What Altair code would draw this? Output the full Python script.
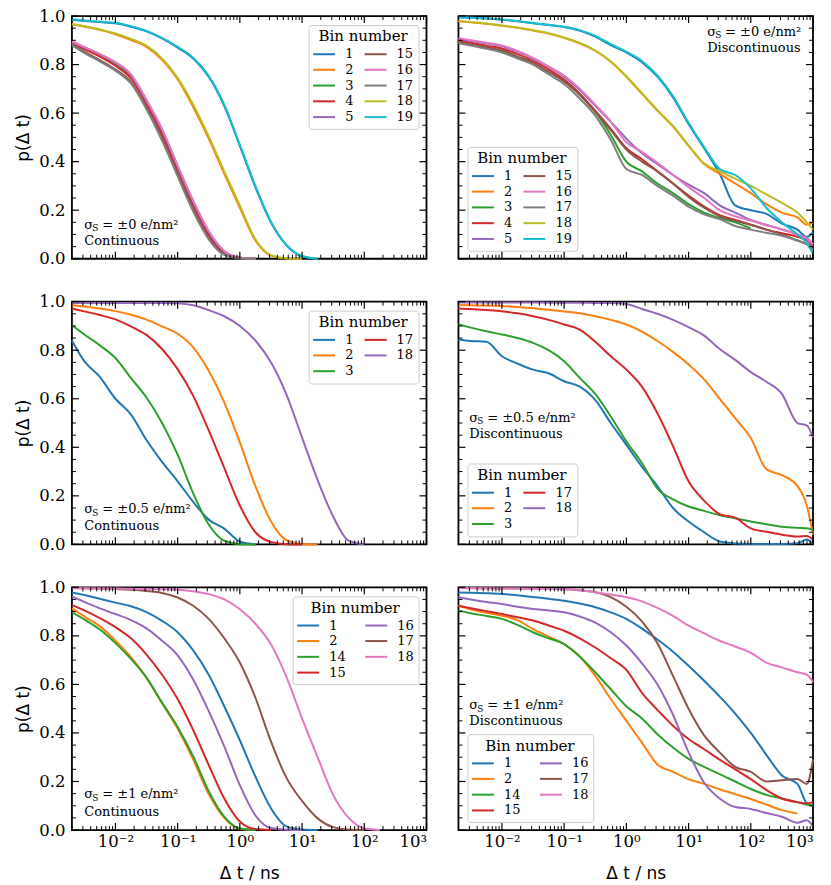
import altair as alt
import pandas as pd

# ---------------- time grids (ns) ----------------
T_CONT = [0.002, 0.00316, 0.00562, 0.01, 0.0178, 0.0316, 0.0562, 0.1, 0.178, 0.316,
          0.562, 1.0, 1.78, 3.16, 5.62, 10.0, 17.8, 31.6, 56.2, 100.0, 178.0]
T_DISC = T_CONT + [316.0, 562.0, 794.0, 1000.0]

# ---------------- sigma = 0, continuous ----------------
A_1 = [0.985, 0.98, 0.975, 0.97, 0.956, 0.937, 0.908, 0.87, 0.825, 0.75, 0.63, 0.465, 0.295, 0.15, 0.055, 0.01, 0.0]
A_2 = [0.965, 0.957, 0.943, 0.925, 0.901, 0.873, 0.82, 0.74, 0.625, 0.495, 0.35, 0.21, 0.075, 0.013, 0.002, 0.0]
A_3 = [0.89, 0.867, 0.838, 0.801, 0.751, 0.644, 0.522, 0.373, 0.228, 0.103, 0.027, 0.004, 0.0]
A_4 = [0.89, 0.864, 0.833, 0.795, 0.743, 0.637, 0.512, 0.365, 0.22, 0.097, 0.024, 0.003, 0.0]
A_5 = [0.895, 0.872, 0.843, 0.807, 0.756, 0.65, 0.53, 0.38, 0.235, 0.11, 0.03, 0.004, 0.0]
A_15 = [0.885, 0.853, 0.818, 0.78, 0.728, 0.622, 0.497, 0.35, 0.205, 0.086, 0.019, 0.003, 0.0]
A_16 = [0.895, 0.872, 0.843, 0.81, 0.76, 0.655, 0.535, 0.385, 0.24, 0.115, 0.032, 0.005, 0.0]
A_17 = [0.88, 0.848, 0.813, 0.775, 0.722, 0.616, 0.487, 0.34, 0.195, 0.08, 0.016, 0.002, 0.0]
A_18 = [0.967, 0.958, 0.945, 0.928, 0.906, 0.878, 0.825, 0.745, 0.635, 0.505, 0.36, 0.22, 0.08, 0.015, 0.002, 0.0]
A_19 = [0.987, 0.982, 0.977, 0.972, 0.958, 0.939, 0.91, 0.873, 0.828, 0.754, 0.635, 0.47, 0.3, 0.153, 0.057, 0.011, 0.0]

# ---------------- sigma = 0, discontinuous ----------------
B_1 = [0.995, 0.993, 0.99, 0.985, 0.978, 0.97, 0.963, 0.955, 0.94, 0.915, 0.88, 0.85, 0.81, 0.75, 0.665, 0.555, 0.455, 0.35, 0.22, 0.2, 0.185, 0.145, 0.12, 0.09, 0.11]
B_2 = [0.978, 0.974, 0.968, 0.96, 0.952, 0.94, 0.928, 0.91, 0.888, 0.857, 0.812, 0.75, 0.68, 0.61, 0.545, 0.465, 0.39, 0.35, 0.31, 0.27, 0.225, 0.19, 0.17, 0.14, 0.15]
B_3 = [0.892, 0.882, 0.87, 0.857, 0.833, 0.807, 0.77, 0.732, 0.675, 0.605, 0.51, 0.4, 0.36, 0.31, 0.27, 0.225, 0.19, 0.168, 0.15, 0.125]
B_4 = [0.9, 0.89, 0.878, 0.866, 0.843, 0.815, 0.78, 0.738, 0.68, 0.61, 0.535, 0.455, 0.41, 0.36, 0.31, 0.26, 0.215, 0.18, 0.16, 0.14, 0.12, 0.105, 0.09, 0.075, 0.05]
B_5 = [0.905, 0.897, 0.887, 0.876, 0.852, 0.824, 0.79, 0.75, 0.695, 0.63, 0.565, 0.495, 0.435, 0.39, 0.345, 0.305, 0.27, 0.22, 0.19, 0.16, 0.14, 0.12, 0.1, 0.08, 0.05]
B_15 = [0.893, 0.882, 0.87, 0.858, 0.832, 0.805, 0.77, 0.73, 0.675, 0.605, 0.53, 0.45, 0.4, 0.36, 0.31, 0.255, 0.21, 0.175, 0.156, 0.14, 0.12, 0.1, 0.075, 0.06, 0.05]
B_16 = [0.909, 0.9, 0.89, 0.879, 0.856, 0.828, 0.793, 0.755, 0.7, 0.635, 0.565, 0.48, 0.44, 0.395, 0.345, 0.295, 0.25, 0.2, 0.175, 0.157, 0.138, 0.122, 0.1, 0.085, 0.06]
B_17 = [0.888, 0.878, 0.865, 0.85, 0.825, 0.8, 0.76, 0.72, 0.66, 0.59, 0.49, 0.37, 0.345, 0.3, 0.26, 0.215, 0.183, 0.163, 0.135, 0.12, 0.107, 0.095, 0.075, 0.06, 0.035]
B_18 = [0.979, 0.975, 0.969, 0.961, 0.953, 0.941, 0.929, 0.911, 0.889, 0.858, 0.813, 0.752, 0.682, 0.612, 0.547, 0.467, 0.392, 0.36, 0.33, 0.3, 0.265, 0.23, 0.19, 0.15, 0.12]
B_19 = [0.995, 0.993, 0.99, 0.986, 0.979, 0.971, 0.964, 0.956, 0.942, 0.918, 0.884, 0.853, 0.815, 0.755, 0.67, 0.56, 0.46, 0.37, 0.345, 0.29, 0.21, 0.15, 0.1, 0.065, 0.02]

# ---------------- sigma = 0.5, continuous ----------------
C_1 = [0.84, 0.755, 0.69, 0.6, 0.535, 0.43, 0.34, 0.26, 0.175, 0.102, 0.065, 0.012, 0.0]
C_2 = [0.986, 0.98, 0.972, 0.961, 0.946, 0.926, 0.898, 0.868, 0.812, 0.715, 0.585, 0.42, 0.24, 0.095, 0.017, 0.002, 0.0]
C_3 = [0.903, 0.865, 0.82, 0.768, 0.685, 0.605, 0.5, 0.37, 0.21, 0.082, 0.015, 0.001, 0.0]
C_17 = [0.972, 0.96, 0.945, 0.927, 0.898, 0.863, 0.805, 0.722, 0.612, 0.47, 0.315, 0.16, 0.05, 0.01, 0.001, 0.0]
C_18 = [0.995, 0.995, 0.995, 0.995, 0.995, 0.995, 0.995, 0.993, 0.985, 0.965, 0.94, 0.9, 0.84, 0.75, 0.617, 0.44, 0.265, 0.115, 0.015, 0.0]

# ---------------- sigma = 0.5, discontinuous ----------------
D_1 = [0.844, 0.838, 0.835, 0.775, 0.745, 0.72, 0.705, 0.672, 0.65, 0.595, 0.5, 0.41, 0.32, 0.24, 0.15, 0.094, 0.05, 0.012, 0.004, 0.002, 0.002, 0.002, 0.005, 0.02, 0.0]
D_2 = [0.986, 0.985, 0.984, 0.982, 0.978, 0.973, 0.967, 0.96, 0.952, 0.94, 0.925, 0.906, 0.877, 0.838, 0.793, 0.741, 0.68, 0.6, 0.52, 0.438, 0.31, 0.285, 0.24, 0.16, 0.04]
D_3 = [0.906, 0.893, 0.878, 0.865, 0.85, 0.83, 0.8, 0.755, 0.686, 0.62, 0.527, 0.424, 0.335, 0.23, 0.185, 0.156, 0.138, 0.12, 0.108, 0.094, 0.083, 0.073, 0.068, 0.066, 0.06]
D_17 = [0.972, 0.97, 0.966, 0.961, 0.952, 0.94, 0.925, 0.906, 0.885, 0.835, 0.775, 0.72, 0.65, 0.54, 0.405, 0.26, 0.18, 0.125, 0.11, 0.066, 0.052, 0.04, 0.032, 0.035, 0.02]
D_18 = [0.997, 0.997, 0.997, 0.997, 0.997, 0.997, 0.996, 0.996, 0.996, 0.995, 0.995, 0.99, 0.97, 0.95, 0.925, 0.895, 0.86, 0.805, 0.76, 0.71, 0.67, 0.62, 0.5, 0.49, 0.44]

# ---------------- sigma = 1, continuous ----------------
E_1 = [0.979, 0.968, 0.953, 0.937, 0.922, 0.898, 0.862, 0.815, 0.74, 0.64, 0.51, 0.37, 0.22, 0.09, 0.015, 0.002, 0.0]
E_2 = [0.913, 0.88, 0.84, 0.78, 0.712, 0.627, 0.522, 0.418, 0.29, 0.148, 0.05, 0.005, 0.0]
E_14 = [0.897, 0.868, 0.826, 0.77, 0.705, 0.628, 0.525, 0.425, 0.303, 0.16, 0.055, 0.006, 0.0]
E_15 = [0.927, 0.905, 0.873, 0.836, 0.79, 0.723, 0.64, 0.54, 0.412, 0.268, 0.13, 0.035, 0.004, 0.0]
E_16 = [0.963, 0.94, 0.913, 0.89, 0.865, 0.831, 0.78, 0.72, 0.62, 0.49, 0.345, 0.185, 0.06, 0.008, 0.001, 0.0]
E_17 = [0.997, 0.996, 0.995, 0.993, 0.99, 0.985, 0.977, 0.958, 0.924, 0.87, 0.79, 0.69, 0.545, 0.365, 0.215, 0.12, 0.048, 0.012, 0.002, 0.0]
E_18 = [0.996, 0.996, 0.995, 0.995, 0.994, 0.993, 0.992, 0.99, 0.984, 0.972, 0.95, 0.91, 0.85, 0.765, 0.63, 0.46, 0.3, 0.145, 0.05, 0.007, 0.0]

# ---------------- sigma = 1, discontinuous ----------------
F_1 = [0.979, 0.978, 0.976, 0.973, 0.967, 0.96, 0.953, 0.945, 0.933, 0.918, 0.897, 0.87, 0.83, 0.785, 0.735, 0.677, 0.615, 0.55, 0.48, 0.4, 0.31, 0.225, 0.19, 0.11, 0.1]
F_2 = [0.924, 0.91, 0.895, 0.883, 0.865, 0.828, 0.797, 0.766, 0.715, 0.635, 0.54, 0.45, 0.36, 0.27, 0.24, 0.21, 0.19, 0.168, 0.148, 0.128, 0.105, 0.082, 0.068]
F_14 = [0.904, 0.893, 0.882, 0.87, 0.845, 0.815, 0.79, 0.766, 0.715, 0.65, 0.58, 0.51, 0.46, 0.395, 0.34, 0.293, 0.26, 0.23, 0.2, 0.169, 0.145, 0.13, 0.115, 0.105, 0.1]
F_15 = [0.924, 0.914, 0.902, 0.89, 0.877, 0.863, 0.843, 0.821, 0.79, 0.752, 0.708, 0.66, 0.565, 0.495, 0.43, 0.375, 0.333, 0.29, 0.25, 0.21, 0.165, 0.13, 0.115, 0.11, 0.115]
F_16 = [0.959, 0.95, 0.94, 0.931, 0.92, 0.911, 0.905, 0.897, 0.88, 0.855, 0.815, 0.76, 0.687, 0.6, 0.475, 0.32, 0.195, 0.13, 0.095, 0.087, 0.07, 0.055, 0.03, 0.04, 0.015]
F_17 = [0.997, 0.997, 0.996, 0.996, 0.995, 0.994, 0.993, 0.992, 0.988, 0.98, 0.96, 0.92, 0.86, 0.77, 0.635, 0.5, 0.39, 0.32, 0.26, 0.24, 0.2, 0.205, 0.21, 0.19, 0.29]
F_18 = [0.996, 0.996, 0.996, 0.995, 0.995, 0.994, 0.993, 0.993, 0.988, 0.98, 0.97, 0.959, 0.942, 0.915, 0.882, 0.842, 0.81, 0.78, 0.756, 0.73, 0.69, 0.67, 0.65, 0.64, 0.61]

# ---------------- bins / colours ----------------
BINS_A = ["1", "2", "3", "4", "5", "15", "16", "17", "18", "19"]
BINS_C = ["1", "2", "3", "17", "18"]
BINS_E = ["1", "2", "14", "15", "16", "17", "18"]
TAB10 = ["#1f77b4", "#ff7f0e", "#2ca02c", "#d62728", "#9467bd",
         "#8c564b", "#e377c2", "#7f7f7f", "#bcbd22", "#17becf"]

XMAJ = [0.01, 0.1, 1, 10, 100, 1000]
XMIN = [m * 10.0 ** e for e in range(-3, 3) for m in range(2, 10)]
YMAJ = [0.0, 0.2, 0.4, 0.6, 0.8, 1.0]
YMIN = [k * 0.05 for k in range(1, 20) if k % 4 != 0]

W, H = 355, 243
LABEL_EXPR = ("datum.value < 0.05 ? '10⁻²' : datum.value < 0.5 ? '10⁻¹' : "
              "datum.value < 5 ? '10⁰' : datum.value < 50 ? '10¹' : "
              "datum.value < 500 ? '10²' : '10³'")


def panel(grid, bins, series, orient, colpad, show_x, show_y, sigma, mode, nx, ny1, ny2):
    rows = []
    for b, s in zip(bins, series):
        for t, p in zip(grid, s):
            if p is not None:
                rows.append({"t": t, "p": p, "bin": b})
    df = pd.DataFrame(rows)
    xs = alt.Scale(type="log", domain=[0.002, 1000], nice=False)
    ys = alt.Scale(domain=[0, 1], nice=False, zero=False)
    xaxis = alt.Axis(values=XMAJ, labelExpr=LABEL_EXPR, ticks=False, domain=False,
                     grid=False, title="Δ t / ns", labelPadding=3, titlePadding=16) if show_x else None
    yaxis = alt.Axis(values=YMAJ, format=".1f", ticks=False, domain=False, grid=False,
                     title="p(Δ t)", labelPadding=7, titlePadding=6) if show_y else None
    X = alt.X("t:Q", scale=xs, axis=xaxis)
    Y = alt.Y("p:Q", scale=ys, axis=yaxis)
    legend = alt.Legend(
        title="Bin number", orient=orient, offset=8.5, columns=2, gridAlign="each",
        symbolType="M-2,0H2", symbolSize=121, symbolStrokeWidth=2, symbolOffset=4.5,
        labelOffset=14.6, columnPadding=colpad, rowPadding=1.8, padding=4.5,
        strokeColor="#cccccc", fillColor="rgba(255,255,255,0.8)", cornerRadius=3,
        titleFont="DejaVu Serif", titleFontSize=15, titleFontWeight="normal",
        titleColor="black", titleAnchor="middle", titleAlign="center", titlePadding=3,
        labelFont="DejaVu Serif", labelFontSize=13, labelColor="black")
    lines = alt.Chart(df).mark_line(strokeWidth=2, interpolate="monotone").encode(
        x=X, y=Y,
        color=alt.Color("bin:N", scale=alt.Scale(domain=bins, range=TAB10[:len(bins)]),
                        legend=legend))

    def xt(vals, L, top, sw):
        return alt.Chart(pd.DataFrame({"t": vals})).mark_rule(color="black", strokeWidth=sw).encode(
            x=X, y=alt.value(0 if top else H), y2=alt.value(L if top else H - L))

    def yt(vals, L, right, sw):
        return alt.Chart(pd.DataFrame({"p": vals})).mark_rule(color="black", strokeWidth=sw).encode(
            y=Y, x=alt.value(W if right else 0), x2=alt.value(W - L if right else L))

    def txt(s, x, y, size):
        return alt.Chart(pd.DataFrame({"k": [0]})).mark_text(
            text=s, font="DejaVu Serif", fontSize=size, align="left", baseline="middle",
            color="black").encode(x=alt.value(x), y=alt.value(y))

    layers = [lines,
              xt(XMIN, 4, False, 1), xt(XMIN, 4, True, 1),
              xt(XMAJ, 7, False, 1.2), xt(XMAJ, 7, True, 1.2),
              yt(YMIN, 4, False, 1), yt(YMIN, 4, True, 1),
              yt(YMAJ, 7, False, 1.2), yt(YMAJ, 7, True, 1.2),
              txt("σ", nx, ny1, 13), txt("S", nx + 8, ny1 + 3.5, 9),
              txt("= ±" + sigma + " e/nm²", nx + 18, ny1, 13),
              txt(mode, nx, ny2, 13)]
    return alt.layer(*layers).properties(width=W, height=H)


pA = panel(T_CONT, BINS_A, [A_1, A_2, A_3, A_4, A_5, A_15, A_16, A_17, A_18, A_19],
           "top-right", 6.5, False, True, "0", "Continuous", 12.4, 209, 225)
pB = panel(T_DISC, BINS_A, [B_1, B_2, B_3, B_4, B_5, B_15, B_16, B_17, B_18, B_19],
           "bottom-left", 6.5, False, False, "0", "Discontinuous", 249, 15.5, 32)
pC = panel(T_CONT, BINS_C, [C_1, C_2, C_3, C_17, C_18],
           "top-right", 6.5, False, True, "0.5", "Continuous", 12.4, 208, 224.5)
pD = panel(T_DISC, BINS_C, [D_1, D_2, D_3, D_17, D_18],
           "bottom-left", 6.5, False, False, "0.5", "Discontinuous", 10.8, 116, 132.7)
pE = panel(T_CONT, BINS_E, [E_1, E_2, E_14, E_15, E_16, E_17, E_18],
           "top-right", 15.2, True, True, "1", "Continuous", 12.4, 207, 225)
pF = panel(T_DISC, BINS_E, [F_1, F_2, F_14, F_15, F_16, F_17, F_18],
           "bottom-left", 15.2, True, False, "1", "Discontinuous", 10.8, 118.3, 134)

chart = alt.concat(pA, pB, pC, pD, pE, pF, columns=2,
                   spacing={"row": 43, "column": 32}, bounds="flush").resolve_scale(
    color="independent", x="independent", y="independent").properties(
    padding={"left": 5, "top": -1.5, "right": 5, "bottom": 0}
).configure_view(stroke="black", strokeWidth=1.8).configure_axis(
    labelFont="DejaVu Serif", labelFontSize=16.5, labelColor="black",
    titleFont="DejaVu Sans", titleFontSize=17, titleFontWeight="normal", titleColor="black")

chart.save("out.html", embed_options={"renderer": "svg", "actions": False})
